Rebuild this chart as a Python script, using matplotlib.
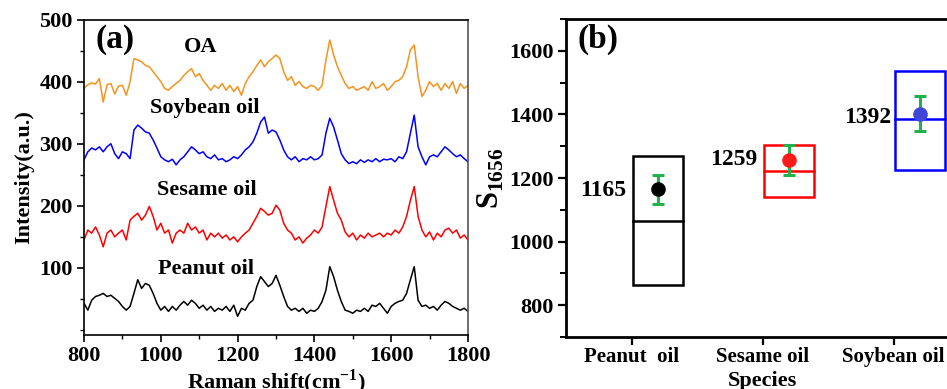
import numpy as np
import matplotlib
matplotlib.use("Agg")
import matplotlib.pyplot as plt
from matplotlib.ticker import MultipleLocator

plt.rcParams['font.family'] = ['Liberation Serif', 'DejaVu Serif']
plt.rcParams['font.weight'] = 'bold'
plt.rcParams['mathtext.fontset'] = 'custom'
plt.rcParams['mathtext.rm'] = 'Liberation Serif'
plt.rcParams['mathtext.bf'] = 'Liberation Serif:bold'

# ---------------- data: panel (a) Raman spectra (read at 10 cm-1 steps) ----------------
raman_shift = np.arange(800, 1801, 10)

oa = [389, 395, 398, 396, 405, 367, 395, 397, 380, 393,
      394, 378, 400, 437, 435, 432, 426, 424, 416, 408,
      400, 389, 386, 392, 397, 402, 410, 416, 421, 408,
      413, 402, 394, 386, 394, 389, 397, 386, 394, 384,
      392, 378, 397, 408, 416, 426, 435, 424, 432, 437,
      443, 437, 416, 402, 408, 394, 400, 392, 389, 394,
      392, 386, 394, 435, 467, 443, 424, 410, 397, 389,
      392, 386, 389, 392, 386, 400, 389, 392, 397, 386,
      392, 400, 402, 408, 424, 451, 459, 408, 376, 386,
      400, 392, 397, 386, 397, 389, 400, 381, 397, 389,
      394]

soybean = [274, 287, 293, 290, 295, 287, 295, 300, 284, 276,
           287, 284, 276, 322, 330, 325, 319, 317, 306, 293,
           279, 274, 271, 275, 266, 274, 279, 287, 295, 290,
           284, 287, 279, 276, 282, 274, 276, 271, 274, 279,
           276, 282, 290, 295, 303, 317, 335, 343, 317, 322,
           319, 306, 290, 279, 274, 279, 271, 276, 274, 279,
           274, 276, 282, 317, 341, 327, 306, 284, 274, 268,
           271, 268, 274, 270, 274, 271, 276, 271, 275, 274,
           276, 271, 279, 276, 287, 317, 346, 295, 279, 266,
           279, 282, 279, 287, 295, 290, 284, 279, 282, 276,
           271]

sesame = [145, 161, 156, 166, 153, 134, 156, 161, 150, 156,
          161, 145, 177, 183, 188, 177, 185, 199, 183, 161,
          172, 156, 161, 140, 156, 161, 156, 172, 161, 166,
          156, 161, 145, 156, 150, 156, 148, 153, 145, 150,
          142, 150, 156, 161, 172, 183, 196, 191, 185, 188,
          201, 193, 172, 161, 156, 145, 150, 140, 148, 153,
          161, 156, 166, 199, 231, 209, 188, 177, 158, 150,
          156, 145, 153, 148, 156, 150, 153, 156, 150, 156,
          153, 161, 156, 166, 183, 209, 231, 183, 161, 150,
          158, 145, 156, 150, 161, 164, 156, 161, 148, 153,
          145]

peanut = [43, 32, 48, 54, 56, 59, 54, 56, 51, 46,
          38, 32, 38, 59, 81, 67, 75, 72, 59, 43,
          32, 38, 30, 38, 32, 40, 46, 40, 48, 43,
          35, 40, 32, 38, 30, 35, 32, 38, 30, 40,
          22, 35, 32, 43, 48, 70, 86, 78, 70, 75,
          88, 72, 54, 38, 32, 35, 30, 35, 27, 32,
          30, 35, 46, 64, 102, 86, 64, 46, 32, 30,
          27, 32, 30, 35, 30, 40, 38, 43, 35, 27,
          38, 43, 46, 48, 59, 81, 102, 48, 38, 40,
          35, 38, 32, 40, 46, 43, 38, 35, 32, 35,
          30]

spectra_names = ['OA', 'Soybean oil', 'Sesame oil', 'Peanut oil']
spectra_colors = ['#f7931e', '#0000ff', '#ff0000', '#000000']
label_x = [1105, 1115, 1120, 1118]
label_y = [455, 358, 226, 99]

# ---------------- data: panel (b) box summary ----------------
species = ['Peanut  oil', 'Sesame oil', 'Soybean oil']
box_q1 = [863, 1141, 1226]
box_q3 = [1268, 1304, 1537]
box_median = [1066, 1223, 1384]
mean_marker = [1164, 1258, 1402]
mean_err = [46, 47, 55]
mean_text = ['1165', '1259', '1392']
mean_text_y = [1161, 1258, 1390]
box_colors = ['#000000', '#ff0000', '#0000ff']
dot_colors = ['#000000', '#ff1a1a', '#3f48d6']

# ---------------- figure ----------------
fig = plt.figure(figsize=(9.47, 3.89), dpi=100)

# panel (a)
ax1 = fig.add_axes([84/947, 1-335/389, 384/947, 315.5/389])
for y, c in zip([oa, soybean, sesame, peanut], spectra_colors):
    ax1.plot(raman_shift, y, color=c, lw=1.1)
for name, x, y in zip(spectra_names, label_x, label_y):
    ax1.text(x, y, name, ha='center', va='center', fontsize=16, fontweight='bold')
ax1.text(0.03, 0.985, '(a)', transform=ax1.transAxes, ha='left', va='top',
         fontsize=24, fontweight='bold')
ax1.set_xlim(800, 1800)
ax1.set_ylim(-8, 500)
ax1.set_xticks([800, 1000, 1200, 1400, 1600, 1800])
ax1.set_yticks([100, 200, 300, 400, 500])
ax1.xaxis.set_minor_locator(MultipleLocator(100))
ax1.yaxis.set_minor_locator(MultipleLocator(50))
ax1.tick_params(which='major', length=5, width=1.2, labelsize=16, pad=3)
ax1.tick_params(which='minor', length=3, width=1.0)
for lab in ax1.get_xticklabels() + ax1.get_yticklabels():
    lab.set_fontweight('bold')
for s in ax1.spines.values():
    s.set_linewidth(1.2)
ax1.spines['right'].set_color('#555555')
ax1.set_xlabel('Raman shift(cm$^{\\mathbf{-1}}$)', fontsize=16, fontweight='bold', labelpad=1)
ax1.set_ylabel('Intensity(a.u.)', fontsize=16, fontweight='bold', labelpad=4)

# panel (b)
ax2 = fig.add_axes([566/947, 1-337/389, 393/947, 318/389])
pos = np.arange(1, len(species) + 1)
box_off = 0.205
box_w = 0.38
heights = [q3 - q1 for q1, q3 in zip(box_q1, box_q3)]
ax2.bar(pos + box_off, heights, width=box_w, bottom=box_q1, fill=False,
        edgecolor=box_colors, linewidth=1.8, zorder=2)
for i in range(len(species)):
    ax2.plot([pos[i] + box_off - box_w/2, pos[i] + box_off + box_w/2],
             [box_median[i]] * 2, color=box_colors[i], lw=1.8, zorder=2)
    ax2.errorbar(pos[i] + box_off, mean_marker[i], yerr=mean_err[i], fmt='none',
                 ecolor='#22b14c', elinewidth=2.2, capsize=4.5, capthick=2.2, zorder=3)
    ax2.plot(pos[i] + box_off, mean_marker[i], 'o', color=dot_colors[i],
             markersize=9.5, zorder=4)
text_off = [-0.04, -0.04, -0.02]
for i in range(len(species)):
    ax2.text(pos[i] + text_off[i], mean_text_y[i], mean_text[i], ha='right', va='center',
             fontsize=17, fontweight='bold')
ax2.text(0.03, 0.985, '(b)', transform=ax2.transAxes, ha='left', va='top',
         fontsize=24, fontweight='bold')
ax2.set_xlim(0.5, 3.5)
ax2.set_ylim(700, 1700)
ax2.set_xticks(pos)
ax2.set_xticklabels(species)
ax2.set_yticks([800, 1000, 1200, 1400, 1600])
ax2.yaxis.set_minor_locator(MultipleLocator(100))
ax2.tick_params(which='major', length=6, width=1.6, labelsize=16, pad=3)
ax2.tick_params(axis='x', labelsize=15, pad=1)
ax2.tick_params(which='minor', length=4, width=1.4)
for lab in ax2.get_xticklabels() + ax2.get_yticklabels():
    lab.set_fontweight('bold')
for s in ax2.spines.values():
    s.set_linewidth(2.0)
ax2.set_xlabel('Species', fontsize=16, fontweight='bold', labelpad=3)
ax2.set_ylabel(r'$\mathbf{S}_{\mathbf{1656}}$', fontsize=22, labelpad=2)

fig.savefig('out.png', dpi=100)
